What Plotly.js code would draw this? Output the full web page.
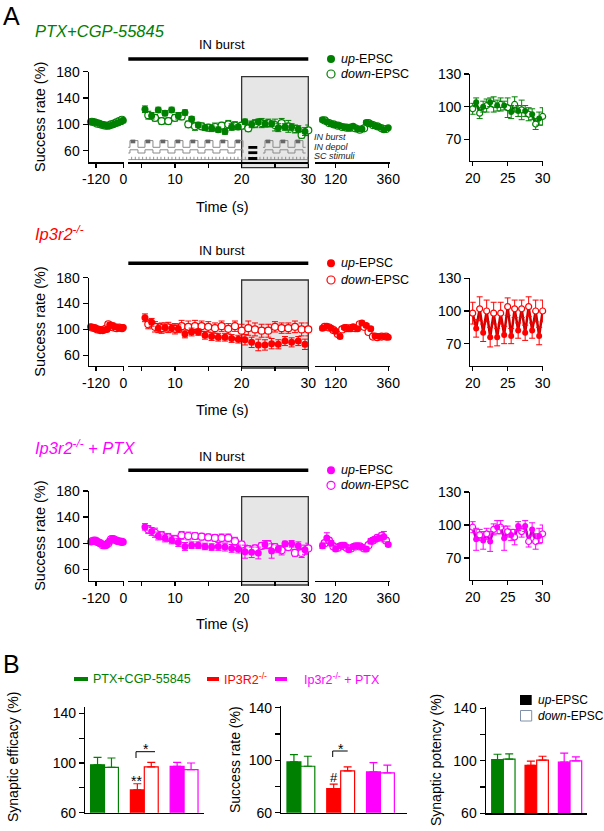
<!DOCTYPE html>
<html><head><meta charset="utf-8">
<script src="https://cdn.plot.ly/plotly-3.0.1.min.js"></script>
<style>body{margin:0;padding:0;background:#fff}#chart{width:604px;height:831px}</style>
</head><body><div id="chart"></div>
<script>
// ---------------- DATA ----------------
// time points (s)
const leftUpT   = [-144,-132,-120,-108,-96,-84,-72,-60,-48,-36,-24,-12,0];
const leftDownT = [-138,-126,-114,-102,-90,-78,-66,-54,-42,-30,-18,-6];
const midUpT    = [5.5,6.5,7.5,8.5,9.5,10.5,11.5,12.5,13.5,14.5,15.5,16.5,17.5,18.5,19.5,20.5,21.5,22.5,23.5,24.5,25.5,26.5,27.5,28.5,29.5];
const midDownT  = [6,7,8,9,10,11,12,13,14,15,16,17,18,19,20,21,22,23,24,25,26,27,28,29,30];
const rightUpT  = [60,80,100,120,140,160,180,200,220,240,260,280,300,320,340,360];
const rightDownT= [70,90,110,130,150,170,190,210,230,250,270,290,310,330,350];

// Panel 1: PTX+CGP-55845
const p1LeftUp   = [104,104,103,102,100,99,98,98,99,101,102,104,106];
const p1LeftDown = [104,103,101,100,99,98,98,100,101,103,105,107];
const p1LeftUpErr   = [3,3,3,3,3,3,3,3,3,3,3,4,4];
const p1LeftDownErr = [3,3,3,3,3,3,3,3,3,3,4,4];
const p1MidUp   = [123,113,122,117,122,113,118,108,99,95,94,92,89,96,96,104,100,104,101,101,95,96,96,93,89];
const p1MidDown = [114,110,105,105,110,112,100,97,97,95,96,98,100,98,98,94,101,102,102,99,102,97,93,84,91];
const p1MidUpErr   = [5,5,4,4,4,5,4,4,4,4,5,4,4,5,4,4,5,4,5,4,6,5,5,5,6];
const p1MidDownErr = [6,5,5,5,5,5,5,6,5,5,6,5,6,6,5,5,6,7,6,9,7,9,6,5,8];
const p1RightUp   = [107,104,101,99,98,96,94,97,93,93,103,101,98,96,92,95];
const p1RightDown = [106,102,100,98,96,95,95,94,92,94,102,99,97,94,93];
const p1RightUpErr   = [3,3,3,3,3,3,3,3,3,3,3,3,3,3,3,3];
const p1RightDownErr = [3,3,3,3,3,3,3,3,3,3,3,3,3,3,3];

// Panel 2: Ip3r2-/-
const p2LeftUp   = [104,103,101,100,99,99,100,107,106,104,103,102,103];
const p2LeftDown = [103,102,100,99,99,101,108,104,103,102,103,102];
const p2LeftUpErr   = [3,3,3,3,3,3,3,4,4,4,3,3,3];
const p2LeftDownErr = [3,3,3,3,3,3,4,4,4,3,3,3];
const p2MidUp   = [118,111,102,103,102,101,93,96,96,91,89,88,88,86,85,84,80,76,76,78,77,82,80,82,77];
const p2MidDown = [108,104,102,103,101,105,104,105,105,104,102,105,101,105,98,102,100,98,98,104,102,102,104,100,100];
const p2MidUpErr   = [6,6,7,7,6,6,6,6,5,6,6,6,6,6,6,8,8,9,8,8,7,7,7,7,8];
const p2MidDownErr = [7,8,8,8,8,9,9,9,8,8,8,8,8,8,10,11,10,10,10,8,8,8,9,10,10];
const p2RightUp   = [102,105,102,97,89,103,101,104,101,110,106,101,90,89,89,88];
const p2RightDown = [104,103,99,93,100,102,102,102,108,104,96,89,88,89,89];
const p2RightUpErr   = [3,3,3,3,3,3,3,3,3,3,3,3,3,3,3,3];
const p2RightDownErr = [3,3,3,3,3,3,3,3,3,3,3,3,3,3,3];

// Panel 3: Ip3r2-/- + PTX
const p3LeftUp   = [102,103,103,101,99,96,98,103,107,105,103,102,102];
const p3LeftDown = [103,104,102,100,97,97,100,106,106,104,103,102];
const p3LeftUpErr   = [4,5,5,4,4,4,4,4,4,4,4,4,4];
const p3LeftDownErr = [4,5,4,4,4,4,4,4,4,4,4,4];
const p3MidUp   = [125,118,111,108,105,101,95,97,97,95,94,95,94,92,91,87,86,85,98,88,91,99,99,96,90];
const p3MidDown = [121,116,112,109,106,112,111,111,110,109,108,108,108,103,98,91,92,96,98,94,89,94,85,85,92];
const p3MidUpErr   = [5,6,6,6,6,6,6,5,5,5,5,6,6,6,6,10,8,9,6,11,5,4,5,6,7];
const p3MidDownErr = [6,7,6,6,6,6,6,5,5,5,5,6,6,6,5,5,5,5,6,5,7,5,5,7,8];
const p3RightUp   = [96,108,100,91,96,97,90,95,96,94,91,103,106,108,110,98];
const p3RightDown = [100,104,95,93,96,93,92,95,95,92,97,104,108,111,104];
const p3RightUpErr   = [4,8,4,3,3,3,3,3,3,3,3,4,4,4,8,3];
const p3RightDownErr = [4,4,3,3,3,3,3,3,3,3,3,4,4,5,4];

// Panel B bar charts
const barGroups = ['PTX+CGP-55845','IP3R2-/-','Ip3r2-/- + PTX'];
const efficacyUp = [98.5,78.3,97.3],  efficacyUpErr = [6,5,3.2];
const efficacyDown = [96.5,96.8,94.6], efficacyDownErr = [7.5,3.7,5.4];
const successUp = [98.7,78.4,91.1],   successUpErr = [5.6,3.3,7.1];
const successDown = [95.4,91.9,90.3], successDownErr = [7.6,3,5.9];
const potencyUp = [101,96.5,99],      potencyUpErr = [4,3.2,6.8];
const potencyDown = [101.3,100.5,100],potencyDownErr = [4,3,3];

// schematic stimulus pulses (s)
const schemPulseT = [3.25,5.5,7.75,10.0,12.25,14.5,16.75,19.0,23.5,25.75,28.0];

// ---------------- STYLE / GEOMETRY ----------------
const W=604, H=831;
const px = v => v/W;
const py = v => 1 - v/H;
const FONT = '"Liberation Sans", Arial, Helvetica, sans-serif';
const GREEN='#008000', RED='#ff0000', MAG='#ff00ff';
const groupColors = [GREEN, RED, MAG];

const XG = {
  left:  {dom:[88.7,124.0],  range:[-152,3],     ticks:[-120,0], text:['-120','0']},
  mid:   {dom:[128.3,308.3], range:[3,30],       ticks:[10,20,30], text:['10','20','30'], minor:[5,15,25]},
  right: {dom:[315,390],     range:[26,368],     ticks:[120,360], text:['120','360']},
  inset: {dom:[470.3,543],   range:[19.66,30.05],ticks:[20,25,30], text:['20','25','30']}
};
function mapX(g, v){ return px(g.dom[0] + (v-g.range[0])/(g.range[1]-g.range[0])*(g.dom[1]-g.dom[0])); }

const panels = [
  {title:'<i>PTX+CGP-55845</i>', color:GREEN, lineColor:'#006a00',
   main:{dom:[162.3,71.7], range:[42.4,180]}, inset:{dom:[160.7,74], range:[50.3,130]},
   titleY:31, burstLblY:44, barY:59, legY:[59,74], box:[76.7,167.7], timeY:206.5,
   leftUp:p1LeftUp, leftDown:p1LeftDown, leftUpErr:p1LeftUpErr, leftDownErr:p1LeftDownErr,
   midUp:p1MidUp, midDown:p1MidDown, midUpErr:p1MidUpErr, midDownErr:p1MidDownErr,
   rightUp:p1RightUp, rightDown:p1RightDown, rightUpErr:p1RightUpErr, rightDownErr:p1RightDownErr},
  {title:'<i>Ip3r2<sup>-/-</sup></i>', color:RED, lineColor:'#cc0000',
   main:{dom:[365.7,277.7], range:[43.9,180]}, inset:{dom:[366,278.3], range:[49.5,130]},
   titleY:233, burstLblY:250, barY:263.3, legY:[263.3,280], box:[280,368], timeY:410,
   leftUp:p2LeftUp, leftDown:p2LeftDown, leftUpErr:p2LeftUpErr, leftDownErr:p2LeftDownErr,
   midUp:p2MidUp, midDown:p2MidDown, midUpErr:p2MidUpErr, midDownErr:p2MidDownErr,
   rightUp:p2RightUp, rightDown:p2RightDown, rightUpErr:p2RightUpErr, rightDownErr:p2RightDownErr},
  {title:'<i>Ip3r2<sup>-/-</sup> + PTX</i>', color:MAG, lineColor:'#c000c0',
   main:{dom:[580.7,491], range:[42.5,180]}, inset:{dom:[580,492], range:[50,130]},
   titleY:446.7, burstLblY:456.7, barY:470.3, legY:[470.3,485.3], box:[496.7,585], timeY:624,
   leftUp:p3LeftUp, leftDown:p3LeftDown, leftUpErr:p3LeftUpErr, leftDownErr:p3LeftDownErr,
   midUp:p3MidUp, midDown:p3MidDown, midUpErr:p3MidUpErr, midDownErr:p3MidDownErr,
   rightUp:p3RightUp, rightDown:p3RightDown, rightUpErr:p3RightUpErr, rightDownErr:p3RightDownErr}
];

const xid = n => n===1 ? 'x' : 'x'+n;
const yid = n => n===1 ? 'y' : 'y'+n;
const xkey = n => n===1 ? 'xaxis' : 'xaxis'+n;
const ykey = n => n===1 ? 'yaxis' : 'yaxis'+n;

const layout = {
  width:W, height:H, margin:{l:0,r:0,t:0,b:0},
  paper_bgcolor:'#fff', plot_bgcolor:'rgba(0,0,0,0)',
  showlegend:false, barmode:'overlay',
  font:{family:FONT, size:14, color:'#000'},
  shapes:[], annotations:[]
};
const traces = [];

function baseAxis(){
  return {showline:true, linecolor:'#000', linewidth:1.2, ticks:'outside', ticklen:4,
          tickwidth:1.2, tickcolor:'#000', showgrid:false, zeroline:false,
          tickfont:{size:14, family:FONT, color:'#000'}, fixedrange:true};
}
function makeX(g, anchor){
  const a = Object.assign(baseAxis(), {domain:[px(g.dom[0]),px(g.dom[1])], range:g.range,
    anchor:anchor, tickmode:'array', tickvals:g.ticks, ticktext:g.text});
  if (g.minor) a.minor = {tickmode:'array', tickvals:g.minor, ticks:'outside', ticklen:4, tickwidth:1.2, tickcolor:'#000', showgrid:false};
  return a;
}
function makeY(dom, range, anchor, vals, text, minor){
  const a = Object.assign(baseAxis(), {domain:[py(dom[0]),py(dom[1])], range:range,
    anchor:anchor, tickmode:'array', tickvals:vals, ticktext:text, ticklen:5});
  if (minor) a.minor = {tickmode:'array', tickvals:minor, ticks:'outside', ticklen:5, tickwidth:1.2, tickcolor:'#000', showgrid:false};
  return a;
}
function ann(text, x, y, opts){
  return Object.assign({text:text, x:px(x), y:py(y), xref:'paper', yref:'paper',
    showarrow:false, xanchor:'center', yanchor:'middle', font:{size:14, family:FONT, color:'#000'}}, opts||{});
}
function markerTrace(xa, ya, xs, ys, errs, color, open, size){
  return {type:'scatter', mode:'markers', x:xs, y:ys, xaxis:xa, yaxis:ya, cliponaxis:false,
    hoverinfo:'skip',
    marker:{size:size, symbol:'circle', color: open ? '#ffffff' : color,
            line:{color:color, width: open ? 1.2 : 0}},
    error_y:{type:'data', array:errs, visible:true, color:color, thickness:1, width:3}};
}
function selectFrom(ts, vs, es, lo){
  const o={t:[],v:[],e:[]};
  ts.forEach((t,i)=>{ if(t>=lo){o.t.push(t); o.v.push(vs[i]); o.e.push(es[i]);} });
  return o;
}

panels.forEach((P, p) => {
  const nL=1+p*4, nM=2+p*4, nR=3+p*4, nI=4+p*4;
  const nY=1+p*2, nYI=2+p*2;
  layout[xkey(nL)] = makeX(XG.left, yid(nY));
  layout[xkey(nM)] = makeX(XG.mid, yid(nY));
  layout[xkey(nR)] = makeX(XG.right, yid(nY));
  layout[xkey(nI)] = makeX(XG.inset, yid(nYI));
  layout[ykey(nY)] = makeY(P.main.dom, P.main.range, xid(nL), [60,100,140,180], ['60','100','140','180']);
  layout[ykey(nYI)] = makeY(P.inset.dom, P.inset.range, xid(nI), [70,100,130], ['70','100','130']);

  const c = P.color;
  // main segments
  traces.push(markerTrace(xid(nL), yid(nY), leftDownT, P.leftDown, P.leftDownErr, c, true, 7));
  traces.push(markerTrace(xid(nL), yid(nY), leftUpT, P.leftUp, P.leftUpErr, c, false, 7));
  traces.push(markerTrace(xid(nM), yid(nY), midDownT, P.midDown, P.midDownErr, c, true, 7));
  traces.push(markerTrace(xid(nM), yid(nY), midUpT, P.midUp, P.midUpErr, c, false, 7));
  traces.push(markerTrace(xid(nR), yid(nY), rightDownT, P.rightDown, P.rightDownErr, c, true, 7));
  traces.push(markerTrace(xid(nR), yid(nY), rightUpT, P.rightUp, P.rightUpErr, c, false, 7));

  // inset: same data, 20-30 s
  const d = selectFrom(midDownT, P.midDown, P.midDownErr, 19.9);
  const u = selectFrom(midUpT, P.midUp, P.midUpErr, 19.9);
  const merged = d.t.map((t,i)=>({t:t, v:d.v[i]})).concat(u.t.map((t,i)=>({t:t, v:u.v[i]})))
                   .sort((a,b)=>a.t-b.t);
  traces.push({type:'scatter', mode:'lines', x:merged.map(m=>m.t), y:merged.map(m=>m.v),
    xaxis:xid(nI), yaxis:yid(nYI), cliponaxis:false, hoverinfo:'skip',
    line:{color:P.lineColor, width:2.5}});
  traces.push(markerTrace(xid(nI), yid(nYI), d.t, d.v, d.e, c, true, 6));
  traces.push(markerTrace(xid(nI), yid(nYI), u.t, u.v, u.e, c, false, 6));

  // grey 20-30 s box
  layout.shapes.push({type:'rect', xref:'paper', yref:'paper', layer:'below',
    x0:mapX(XG.mid,20), x1:mapX(XG.mid,30), y0:py(P.box[1]), y1:py(P.box[0]),
    fillcolor:'#e6e6e6', line:{color:'#333', width:1.3}});
  // IN burst bar
  layout.shapes.push({type:'line', xref:'paper', yref:'paper',
    x0:mapX(XG.mid,3), x1:mapX(XG.mid,30), y0:py(P.barY), y1:py(P.barY),
    line:{color:'#000', width:3.5}});
  layout.annotations.push(ann('IN burst', 222, P.burstLblY, {font:{size:13, family:FONT}}));
  layout.annotations.push(ann(P.title, 33, P.titleY, {xanchor:'left', font:{size:16.5, family:FONT, color:c}}));
  layout.annotations.push(ann('Success rate (%)', 40, (P.main.dom[0]+P.main.dom[1])/2, {textangle:-90, font:{size:14.5, family:FONT}}));
  layout.annotations.push(ann('Time (s)', 222, P.timeY, {font:{size:14.5, family:FONT}}));
  // legend
  layout.shapes.push({type:'circle', xref:'paper', yref:'paper', x0:px(327), x1:px(335),
    y0:py(P.legY[0]+4), y1:py(P.legY[0]-4), fillcolor:c, line:{color:c, width:0}});
  layout.shapes.push({type:'circle', xref:'paper', yref:'paper', x0:px(327), x1:px(335),
    y0:py(P.legY[1]+4), y1:py(P.legY[1]-4), fillcolor:'#fff', line:{color:c, width:1.2}});
  layout.annotations.push(ann('<i>up</i>-EPSC', 339, P.legY[0], {xanchor:'left', font:{size:12.5, family:FONT}}));
  layout.annotations.push(ann('<i>down</i>-EPSC', 339, P.legY[1], {xanchor:'left', font:{size:12.5, family:FONT}}));
});

// schematic stimulus traces in panel 1
(function(){
  const g = XG.mid, w = 1.2;
  function rowPath(base, top, lo, hi){
    let s = 'M '+mapX(g,lo)+','+py(base);
    schemPulseT.filter(t=>t>=lo && t<hi).forEach(t=>{
      s += ' L '+mapX(g,t)+','+py(base)+' L '+mapX(g,t)+','+py(top)+
           ' L '+mapX(g,t+w)+','+py(top)+' L '+mapX(g,t+w)+','+py(base);
    });
    s += ' L '+mapX(g,hi)+','+py(base);
    return s;
  }
  [[3,20.2],[23.2,29.6]].forEach(seg=>{
    layout.shapes.push({type:'path', xref:'paper', yref:'paper', path:rowPath(147.3,140.6,seg[0],seg[1]), line:{color:'#8a8a8a', width:1}});
    layout.shapes.push({type:'path', xref:'paper', yref:'paper', path:rowPath(153,149.8,seg[0],seg[1]), line:{color:'#8a8a8a', width:1}});
  });
  schemPulseT.forEach(t=>{
    layout.shapes.push({type:'rect', xref:'paper', yref:'paper', x0:mapX(g,t+0.1), x1:mapX(g,t+0.8),
      y0:py(143.3), y1:py(139.6), fillcolor:'#666', line:{width:0}});
  });
  let sc = 'M '+mapX(g,3)+','+py(159.6)+' L '+mapX(g,30)+','+py(159.6);
  for(let t=3.5; t<30; t+=0.55){ sc += ' M '+mapX(g,t)+','+py(159.6)+' L '+mapX(g,t)+','+py(156.8); }
  layout.shapes.push({type:'path', xref:'paper', yref:'paper', path:sc, line:{color:'#777', width:0.8}});
  [[146,148.8],[151.3,154.1],[157,160]].forEach(r=>{
    layout.shapes.push({type:'rect', xref:'paper', yref:'paper', x0:mapX(g,21.0), x1:mapX(g,22.35),
      y0:py(r[1]), y1:py(r[0]), fillcolor:'#000', line:{width:0}});
  });
  const sf = {size:9, family:FONT, color:'#222'};
  layout.annotations.push(ann('<i>IN burst</i>', 312, 137, {xanchor:'left', font:sf}));
  layout.annotations.push(ann('<i>IN depol</i>', 312, 146.6, {xanchor:'left', font:sf}));
  layout.annotations.push(ann('<i>SC stimuli</i>', 312, 156, {xanchor:'left', font:sf}));
})();

// ---------------- PANEL B ----------------
const barCharts = [
  {n:13, ny:7, xdom:[85,204], xr:[-0.49,2.5], ydom:[812.7,706.7], yr:[60,145.3],
   up:efficacyUp, upErr:efficacyUpErr, down:efficacyDown, downErr:efficacyDownErr,
   title:'Synaptic efficacy (%)', tx:13, ty:757},
  {n:14, ny:8, xdom:[281,406.7], xr:[-0.5,2.66], ydom:[812.7,706], yr:[60,141.3],
   up:successUp, upErr:successUpErr, down:successDown, downErr:successDownErr,
   title:'Success rate (%)', tx:235, ty:760},
  {n:15, ny:9, xdom:[485.7,586.7], xr:[-0.53,2.5], ydom:[813.3,707.3], yr:[60,140.8],
   up:potencyUp, upErr:potencyUpErr, down:potencyDown, downErr:potencyDownErr,
   title:'Synaptic potency (%)', tx:436, ty:760}
];
barCharts.forEach(B=>{
  layout[xkey(B.n)] = Object.assign(baseAxis(), {domain:[px(B.xdom[0]),px(B.xdom[1])], range:B.xr,
    anchor:yid(B.ny), ticks:'', showticklabels:false});
  layout[ykey(B.ny)] = makeY(B.ydom, B.yr, xid(B.n), [60,100,140], ['60','100','140'], [80,120]);
  barGroups.forEach((name, g)=>{
    const col = groupColors[g];
    traces.push({type:'bar', x:[g], y:[B.up[g]], xaxis:xid(B.n), yaxis:yid(B.ny), width:0.35, offset:-0.35,
      marker:{color:col, line:{color:col, width:1.2}}, hoverinfo:'skip',
      error_y:{type:'data', symmetric:false, array:[B.upErr[g]], arrayminus:[0], color:col, thickness:1.2, width:4}});
    traces.push({type:'bar', x:[g], y:[B.down[g]], xaxis:xid(B.n), yaxis:yid(B.ny), width:0.35, offset:0,
      marker:{color:'#ffffff', line:{color:col, width:1.2}}, hoverinfo:'skip',
      error_y:{type:'data', symmetric:false, array:[B.downErr[g]], arrayminus:[0], color:col, thickness:1.2, width:4}});
  });
  layout.annotations.push(ann(B.title, B.tx, B.ty, {textangle:-90, font:{size:14, family:FONT}}));
});

// significance marks
layout.annotations.push(ann('**', 136.5, 781, {font:{size:14, family:FONT}}));
layout.annotations.push(ann('*', 145.5, 749, {font:{size:14, family:FONT}}));
layout.shapes.push({type:'path', xref:'paper', yref:'paper',
  path:'M '+px(136)+','+py(758)+' L '+px(136)+','+py(751.7)+' L '+px(155)+','+py(751.7), line:{color:'#000', width:1}});
layout.annotations.push(ann('#', 333.5, 777, {font:{size:13, family:FONT}}));
layout.annotations.push(ann('*', 341, 749, {font:{size:14, family:FONT}}));
layout.shapes.push({type:'path', xref:'paper', yref:'paper',
  path:'M '+px(332.7)+','+py(757)+' L '+px(332.7)+','+py(751)+' L '+px(347.7)+','+py(751), line:{color:'#000', width:1}});

// B legends
[[74,88,GREEN,'PTX+CGP-55845',91],[207,219,RED,'IP3R2<sup>-/-</sup>',222],[275,287,MAG,'Ip3r2<sup>-/-</sup> + PTX',302]].forEach(L=>{
  layout.shapes.push({type:'rect', xref:'paper', yref:'paper', x0:px(L[0]), x1:px(L[1]), y0:py(681), y1:py(677),
    fillcolor:L[2], line:{width:0}});
  layout.annotations.push(ann(L[3], L[4], 679, {xanchor:'left', font:{size:12.5, family:FONT, color:L[2]}}));
});
layout.shapes.push({type:'rect', xref:'paper', yref:'paper', x0:px(520), x1:px(531.7), y0:py(705), y1:py(695),
  fillcolor:'#000', line:{width:0}});
layout.shapes.push({type:'rect', xref:'paper', yref:'paper', x0:px(520.5), x1:px(531.7), y0:py(721), y1:py(710.5),
  fillcolor:'#fff', line:{color:'#8090a8', width:1}});
layout.annotations.push(ann('<i>up</i>-EPSC', 536, 700, {xanchor:'left', font:{size:12, family:FONT}}));
layout.annotations.push(ann('<i>down</i>-EPSC', 536, 715.5, {xanchor:'left', font:{size:12, family:FONT}}));

// panel letters
layout.annotations.push(ann('A', 1, 16, {xanchor:'left', font:{size:25, family:FONT}}));
layout.annotations.push(ann('B', 1, 664, {xanchor:'left', font:{size:25, family:FONT}}));

Plotly.newPlot('chart', traces, layout, {staticPlot:true, displayModeBar:false});
</script></body></html>
